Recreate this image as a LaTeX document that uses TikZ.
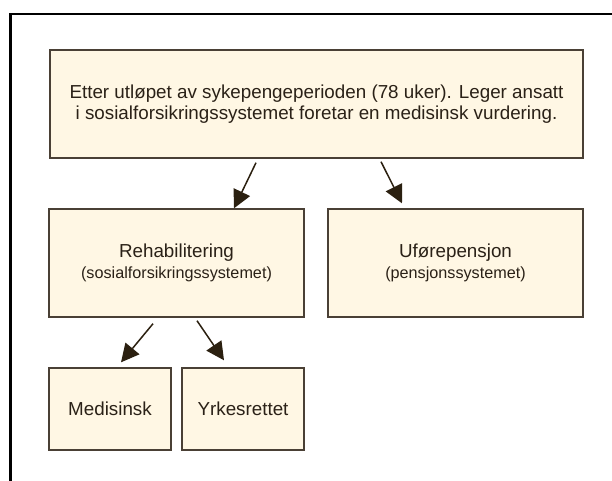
\documentclass[tikz,border=0pt]{standalone}
\usepackage{fontspec}
\setmainfont{Liberation Sans}
\usetikzlibrary{arrows.meta,shadows}
\definecolor{boxfill}{HTML}{FFF7E4}
\definecolor{boxline}{HTML}{4A4035}
\definecolor{ink}{HTML}{2A2117}
\definecolor{arrowink}{HTML}{2B2010}
\tikzset{
  box/.style={draw=boxline, fill=boxfill, line width=1.4pt, text=ink,
    align=center, inner sep=0pt,
    drop shadow={shadow xshift=1.2pt, shadow yshift=-1.2pt, fill=black!22, opacity=1},
    font=\fontsize{18.8}{21}\selectfont},
  link/.style={draw=arrowink, line width=1.5pt,
    -{Triangle[length=18pt,width=18pt]}}
}
\newcommand{\subline}[1]{{\fontsize{16.2}{21}\selectfont #1}}
\begin{document}
\begin{tikzpicture}[x=1pt,y=-1pt]
  \useasboundingbox (0,0) rectangle (612,480);
  \clip (0,0) rectangle (612,480);
  % outer frame, running off the page on the right and bottom
  \draw[line width=2.6pt, black] (10.5,520) -- (10.5,14) -- (660,14);

  % boxes
  \node[box, minimum width=533pt, minimum height=108pt] (top) at (316.5,104)
    {Etter utløpet av sykepengeperioden (78 uker). Leger ansatt\\
     i sosialforsikringssystemet foretar en medisinsk vurdering.};
  \node[box, minimum width=255pt, minimum height=108pt] (rehab) at (176.5,263)
    {\raisebox{-4pt}{\shortstack{Rehabilitering\\[3pt]\subline{(sosialforsikringssystemet)}}}};
  \node[box, minimum width=255pt, minimum height=108pt] (ufor) at (455.5,263)
    {\raisebox{-4pt}{\shortstack{Uførepensjon\\[3pt]\subline{(pensjonssystemet)}}}};
  \node[box, minimum width=122pt, minimum height=82pt] (med) at (110,409)
    {Medisinsk};
  \node[box, minimum width=122pt, minimum height=82pt] (yrk) at (243,409)
    {Yrkesrettet};

  % connectors
  \draw[link] ([xshift=-60.5pt,yshift=-4pt]top.south) -- ([xshift=57.5pt]rehab.north);
  \draw[link] ([xshift=64.5pt,yshift=-3pt]top.south) -- ([xshift=-53.5pt,yshift=5pt]ufor.north);
  \draw[link] ([xshift=-23.5pt,yshift=-6pt]rehab.south) -- ([xshift=11pt,yshift=5pt]med.north);
  \draw[link] ([xshift=20.5pt,yshift=-3pt]rehab.south) -- ([xshift=-19pt,yshift=7pt]yrk.north);
\end{tikzpicture}
\end{document}
